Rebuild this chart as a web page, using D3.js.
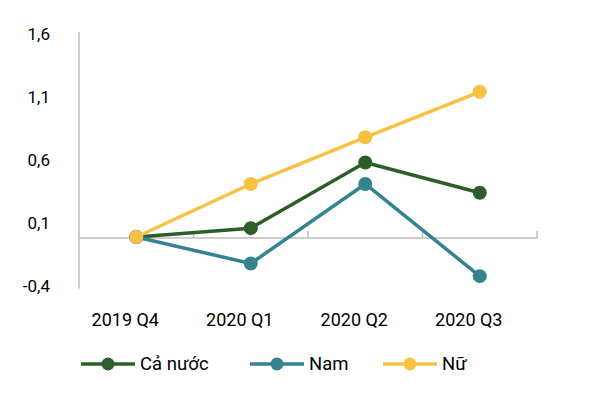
<!DOCTYPE html>
<html><head><meta charset="utf-8">
<script src="https://cdn.jsdelivr.net/npm/d3@7/dist/d3.min.js"></script>
<style>body{margin:0;background:#fff}</style>
</head><body>
<svg id="c" width="600" height="408"></svg>
<script>
const categories = ["2019 Q4", "2020 Q1", "2020 Q2", "2020 Q3"];
const caNuoc = [0, 0.07, 0.59, 0.35];
const nam = [0, -0.21, 0.42, -0.31];
const nu = [0, 0.42, 0.79, 1.15];
const yTicks = [-0.4, 0.1, 0.6, 1.1, 1.6];
const seriesNames = ["Cả nước", "Nam", "Nữ"];
const colors = ["#2d5e29", "#358290", "#f8c144"];

const series = [
  {name: seriesNames[0], values: caNuoc, color: colors[0]},
  {name: seriesNames[1], values: nam, color: colors[1]},
  {name: seriesNames[2], values: nu, color: colors[2]}
];

const svg = d3.select("#c");
const font = "Roboto, 'Open Sans', sans-serif";
const x = d3.scaleBand().domain(categories).range([79, 537]);
const y = d3.scaleLinear().domain([-0.4, 1.6]).range([287.5, 35]);

// y axis line
svg.append("line").attr("x1", 79).attr("x2", 79)
  .attr("y1", y(1.6) - 3).attr("y2", y(-0.4) + 1)
  .attr("stroke", "#9a9a9a").attr("stroke-width", 1);

// y tick labels
svg.selectAll(".yl").data(yTicks).enter().append("text")
  .attr("x", 50).attr("y", d => y(d) - 1).attr("dy", "0.35em")
  .attr("text-anchor", "end").attr("font-family", font).attr("font-size", 17)
  .attr("fill", "#000")
  .text(d => d.toFixed(1).replace(".", ","));

// x axis at zero
const xa = svg.append("g").attr("transform", `translate(0,${Math.round(y(0)) + 0.5})`)
  .call(d3.axisTop(x).tickValues([]).tickSizeOuter(0));
xa.select(".domain").attr("stroke", "#bdbdbd").attr("stroke-width", 1.5);
// band boundary ticks (upward)
const bounds = categories.map(c => x(c) + x.bandwidth());
svg.selectAll(".xt").data(bounds).enter().append("line")
  .attr("x1", d => d).attr("x2", d => d)
  .attr("y1", Math.round(y(0)) + 0.5).attr("y2", Math.round(y(0)) - 6)
  .attr("stroke", "#bdbdbd").attr("stroke-width", 1.5);

// x labels
svg.selectAll(".xl").data(categories).enter().append("text")
  .attr("x", d => x(d) + x.bandwidth() / 2 - 11).attr("y", 320).attr("dy", "0.35em")
  .attr("text-anchor", "middle").attr("font-family", font).attr("font-size", 18)
  .attr("fill", "#000").text(d => d);

const line = d3.line().x((d, i) => x(categories[i]) + x.bandwidth() / 2).y(d => y(d));

series.forEach(s => {
  const g = svg.append("g");
  g.append("path").attr("d", line(s.values)).attr("fill", "none")
    .attr("stroke", s.color).attr("stroke-width", 3.5).attr("stroke-linejoin", "round");
  g.selectAll("circle").data(s.values).enter().append("circle")
    .attr("cx", (d, i) => x(categories[i]) + x.bandwidth() / 2)
    .attr("cy", d => y(d)).attr("r", 7).attr("fill", s.color);
});

// legend
const legX = [81, 250, 383];
series.forEach((s, i) => {
  const g = svg.append("g").attr("transform", `translate(${legX[i]},364)`);
  g.append("line").attr("x1", 0).attr("x2", 54).attr("stroke", s.color).attr("stroke-width", 3.5);
  g.append("circle").attr("cx", 27).attr("r", 6.5).attr("fill", s.color);
  g.append("text").attr("x", 59).attr("dy", "0.35em").attr("font-family", font)
    .attr("font-size", 18.5).attr("fill", "#000").text(s.name);
});
</script>
</body></html>
